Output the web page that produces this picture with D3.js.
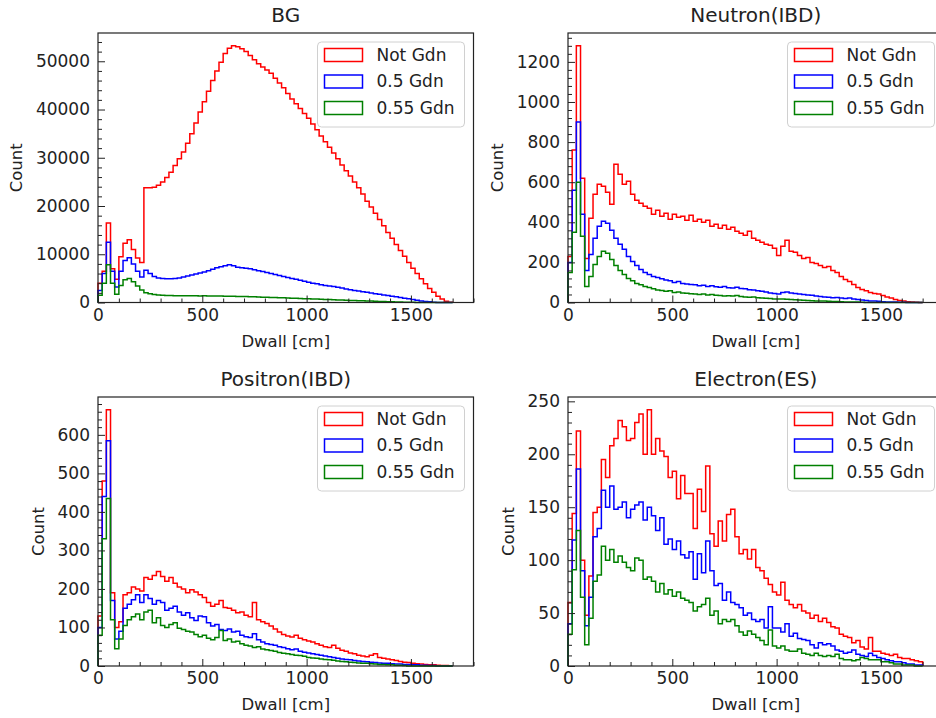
<!DOCTYPE html>
<html><head><meta charset="utf-8">
<script src="https://cdn.jsdelivr.net/npm/d3@7"></script>
<style>body{margin:0;background:#fff} svg{display:block} text{font-family:"DejaVu Sans",sans-serif}</style>
</head><body><svg id="chart" width="936" height="718"></svg>
<script>
const binWidth = 20;
const xMax = 1800;
const xTicks = [0, 500, 1000, 1500];
const xMinorStep = 100;
const seriesNames = ["Not Gdn", "0.5 Gdn", "0.55 Gdn"];
const seriesColors = ["#ff0000", "#0000ff", "#008000"];
const panelTitles = ["BG", "Neutron(IBD)", "Positron(IBD)", "Electron(ES)"];

// BG
const bgNotGdn = [4000,6500,16500,7000,4800,9500,12300,13000,11000,9200,
 8300,23800,23800,23900,24300,25000,25900,27000,28400,29800,
 31200,33000,35000,37200,39500,41600,43800,46000,48000,49800,
 51600,52700,53200,53000,52600,52000,51200,50300,49500,48800,
 48200,47500,46500,45500,44500,43300,42200,41200,40200,39200,
 38200,37000,35800,34500,33300,32200,31000,29800,28500,27300,
 26200,25000,23800,22500,21000,19800,18500,17200,15900,14500,
 13300,12000,10800,9600,8300,7100,6000,4900,3900,2900,
 2100,1300,700,250,50];
const bgGdn050 = [2500,6000,12500,6500,3200,6500,8700,9300,8000,6500,
 5300,6700,6000,5400,5100,5000,4900,4900,5000,5100,
 5300,5500,5700,5900,6100,6300,6600,6900,7200,7400,
 7600,7800,7600,7300,7200,7100,7000,6800,6600,6400,
 6200,6000,5800,5600,5400,5200,5000,4800,4600,4400,
 4200,4000,3900,3700,3500,3400,3300,3150,3000,2800,
 2650,2500,2400,2250,2100,1950,1830,1700,1570,1440,
 1300,1170,1040,900,760,600,450,330,220,130,
 60,20,5,0,0];
const bgGdn055 = [1500,4000,7800,4000,1700,3500,4700,5000,4300,3400,
 2600,2000,1800,1650,1550,1500,1450,1450,1400,1420,
 1400,1380,1400,1380,1370,1380,1360,1350,1350,1330,
 1320,1300,1280,1260,1240,1220,1200,1170,1140,1110,
 1080,1050,1020,990,960,930,900,870,840,800,
 770,740,700,670,640,600,570,540,500,470,
 440,410,380,350,320,290,260,230,200,170,
 140,110,90,70,50,35,20,10,5,0,
 0,0,0,0,0];

// Neutron(IBD)
const neutronNotGdn = [230,760,1280,620,220,420,540,590,580,550,
 490,690,640,590,605,540,510,495,480,470,
 440,460,430,445,415,440,425,430,410,435,
 405,415,400,410,380,390,370,385,365,375,
 355,345,335,355,320,310,300,290,285,270,
 235,280,310,255,250,235,220,225,200,195,
 185,175,180,160,150,130,115,105,90,75,
 65,58,50,45,42,35,28,22,15,10,
 7,4,2,1,0];
const neutronGdn050 = [200,560,900,440,160,240,320,380,405,395,
 360,320,290,265,230,205,185,165,150,140,
 130,125,118,112,108,100,105,95,92,90,
 88,84,86,80,84,78,76,80,74,72,
 76,70,68,64,62,58,56,52,48,45,
 42,50,52,48,45,42,40,38,36,32,
 30,28,26,24,25,22,20,22,18,15,
 12,10,8,8,6,4,3,2,2,1,
 1,0,0,0,0];
const neutronGdn055 = [150,350,600,330,80,130,190,230,255,245,
 215,185,160,140,120,108,95,88,80,75,
 68,62,60,56,58,50,52,48,46,44,
 42,40,42,38,40,36,35,33,34,32,
 35,30,28,26,27,24,22,21,20,18,
 17,18,16,15,14,12,11,10,9,8,
 8,7,6,5,5,4,3,3,2,2,
 1,0,0,0,0,0,0,0,0,0,
 0,0,0,0,0];

// Positron(IBD)
const positronNotGdn = [130,480,665,190,100,115,185,190,205,200,
 195,230,225,235,245,232,220,230,215,205,
 200,190,198,192,185,178,165,155,160,170,
 152,150,145,138,140,132,128,165,120,115,
 110,104,96,88,82,78,75,80,72,68,
 65,62,58,54,50,48,54,46,41,38,
 34,32,28,26,24,28,32,22,20,18,
 16,14,12,10,9,7,6,5,4,3,
 3,2,1,1,0];
const positronGdn050 = [100,440,585,170,70,90,150,160,172,185,
 165,185,175,160,170,165,145,150,155,140,
 132,138,125,118,130,128,112,104,108,95,
 92,96,88,90,80,76,74,84,68,62,
 58,56,54,50,48,45,42,44,38,36,
 34,32,30,28,26,24,22,20,18,17,
 16,14,13,12,11,10,9,8,7,7,
 6,5,5,4,4,3,3,2,2,1,
 1,0,0,0,0];
const positronGdn055 = [80,330,435,120,45,70,105,120,128,135,
 120,140,145,112,125,105,100,108,112,98,
 95,90,88,82,76,80,72,68,74,92,
 66,70,62,64,58,54,52,48,50,44,
 42,40,38,35,33,32,30,28,27,25,
 22,21,20,18,17,16,15,13,12,11,
 10,9,8,7,7,6,5,4,4,3,
 3,2,2,1,0,0,0,0,0,0,
 0,0,0,0,0];

// Electron(ES)
const electronNotGdn = [60,144,222,100,48,85,145,150,195,178,
 208,215,232,226,213,215,230,238,200,242,
 200,215,203,198,178,184,158,180,163,163,
 130,167,146,189,125,113,137,118,143,148,
 122,106,110,101,110,93,90,83,77,70,
 67,79,62,58,55,58,52,50,45,48,
 42,45,41,37,36,30,28,27,22,24,
 18,16,27,14,14,12,11,10,11,8,
 7,7,6,5,4];
const electronGdn050 = [40,119,186,90,38,65,122,130,166,150,
 170,148,150,155,140,148,152,155,138,150,
 142,128,140,115,120,110,118,105,102,108,
 82,106,88,118,90,76,78,62,70,60,
 58,55,48,50,44,42,44,36,56,36,
 36,32,40,28,31,26,25,24,20,17,
 22,20,21,19,15,14,12,13,15,11,
 10,9,12,10,8,7,6,5,4,4,
 3,2,2,1,1];
const electronGdn055 = [30,91,128,65,20,45,80,86,113,100,
 110,98,104,98,93,90,102,100,82,84,
 80,70,78,68,72,66,70,64,62,60,
 52,56,58,64,48,52,40,44,42,44,
 38,32,29,33,30,27,24,20,34,19,
 17,19,15,14,14,16,12,11,10,12,
 10,9,10,9,11,7,6,6,5,6,
 8,7,6,6,6,4,4,3,2,2,
 1,1,1,0,0];

const bgYTicks = [0,10000,20000,30000,40000,50000];
const neutronYTicks = [0,200,400,600,800,1000,1200];
const positronYTicks = [0,100,200,300,400,500,600];
const electronYTicks = [0,50,100,150,200,250];

const panels = [
  {title: panelTitles[0], data: [bgNotGdn, bgGdn050, bgGdn055], yTicks: bgYTicks, yMinor: 2000, left: 98, top: 33, bottom: 302.5},
  {title: panelTitles[1], data: [neutronNotGdn, neutronGdn050, neutronGdn055], yTicks: neutronYTicks, yMinor: 40, left: 568, top: 33, bottom: 302.5},
  {title: panelTitles[2], data: [positronNotGdn, positronGdn050, positronGdn055], yTicks: positronYTicks, yMinor: 20, left: 98, top: 397, bottom: 666},
  {title: panelTitles[3], data: [electronNotGdn, electronGdn050, electronGdn055], yTicks: electronYTicks, yMinor: 10, left: 568, top: 397, bottom: 666}
];
const axW = 375.5;
const FONT = '"DejaVu Sans", sans-serif';

const svg = d3.select("#chart");

panels.forEach(p => {
  const right = p.left + axW;
  const x = d3.scaleLinear().domain([0, xMax]).range([p.left, right]);
  const ymax = d3.max(p.data, s => d3.max(s)) * 1.05;
  const y = d3.scaleLinear().domain([0, ymax]).range([p.bottom, p.top]);
  const g = svg.append("g");

  // histograms (step)
  const line = d3.line().x(d => x(d[0])).y(d => y(d[1]));
  p.data.forEach((vals, si) => {
    const pts = [[0, 0]];
    vals.forEach((v, i) => { pts.push([i * binWidth, v]); pts.push([(i + 1) * binWidth, v]); });
    pts.push([vals.length * binWidth, 0]);
    g.append("path").attr("d", line(pts)).attr("fill", "none")
      .attr("stroke", seriesColors[si]).attr("stroke-width", 1.5).attr("stroke-linejoin", "miter");
  });

  // minor ticks
  const xMinor = d3.range(0, xMax + 1, xMinorStep).filter(v => !xTicks.includes(v));
  g.append("g").attr("transform", `translate(0,${p.bottom})`)
    .call(d3.axisBottom(x).tickValues(xMinor).tickSize(-4).tickFormat(""))
    .call(a => a.select(".domain").remove());
  const yMinorVals = d3.range(0, ymax, p.yMinor).filter(v => !p.yTicks.includes(v));
  g.append("g").attr("transform", `translate(${p.left},0)`)
    .call(d3.axisLeft(y).tickValues(yMinorVals).tickSize(-4).tickFormat(""))
    .call(a => a.select(".domain").remove());

  // major ticks
  const xa = g.append("g").attr("transform", `translate(0,${p.bottom})`)
    .call(d3.axisBottom(x).tickValues(xTicks).tickSize(-7).tickPadding(6).tickFormat(d3.format("d")));
  xa.select(".domain").remove();
  xa.attr("font-size", 17).attr("font-family", FONT);
  xa.selectAll("text").attr("fill", "#222");
  const ya = g.append("g").attr("transform", `translate(${p.left},0)`)
    .call(d3.axisLeft(y).tickValues(p.yTicks).tickSize(-7).tickPadding(8).tickFormat(d3.format("d")));
  ya.select(".domain").remove();
  ya.attr("font-size", 17).attr("font-family", FONT);
  ya.selectAll("text").attr("fill", "#222");
  g.selectAll(".tick line").attr("stroke", "#222");

  // frame
  g.append("rect").attr("x", p.left).attr("y", p.top).attr("width", axW).attr("height", p.bottom - p.top)
    .attr("fill", "none").attr("stroke", "#222").attr("stroke-width", 1.2);

  // title
  g.append("text").attr("x", (p.left + right) / 2).attr("y", p.top - 11)
    .attr("text-anchor", "middle").attr("font-size", 20).attr("fill", "#222").text(p.title);
  // x label
  g.append("text").attr("x", (p.left + right) / 2).attr("y", p.bottom + 44)
    .attr("text-anchor", "middle").attr("font-size", 16.5).attr("fill", "#222").text("Dwall [cm]");
  // y label
  const bb = ya.node().getBBox();
  const lx = p.left + bb.x - 14;
  g.append("text").attr("transform", `translate(${lx},${(p.top + p.bottom) / 2}) rotate(-90)`)
    .attr("text-anchor", "middle").attr("font-size", 16.5).attr("fill", "#222").text("Count");

  // legend
  const lg = g.append("g").attr("transform", `translate(${right - 156},${p.top + 9})`);
  lg.append("rect").attr("width", 147).attr("height", 85).attr("rx", 4)
    .attr("fill", "#fff").attr("fill-opacity", 0.8).attr("stroke", "#d0d0d0");
  seriesNames.forEach((n, i) => {
    const cy = 13 + i * 26.5;
    lg.append("rect").attr("x", 7).attr("y", cy - 6.5).attr("width", 38).attr("height", 13)
      .attr("fill", "none").attr("stroke", seriesColors[i]).attr("stroke-width", 1.5);
    lg.append("text").attr("x", 59).attr("y", cy).attr("dy", "0.35em")
      .attr("font-size", 17).attr("fill", "#222").text(n);
  });
});
</script></body></html>
